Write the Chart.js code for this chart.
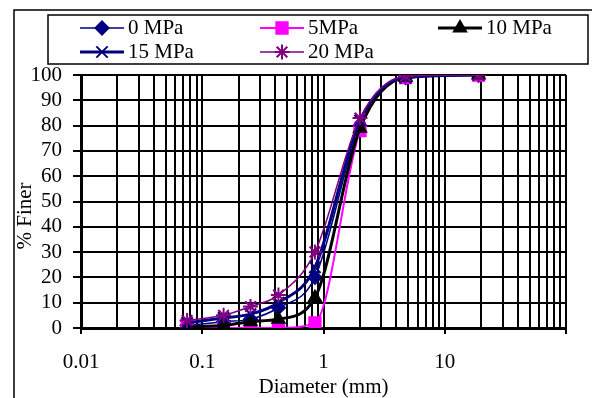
<!DOCTYPE html>
<html>
<head>
<meta charset="utf-8">
<script src="https://cdn.jsdelivr.net/npm/chart.js@4.4.1/dist/chart.umd.min.js"></script>
<style>
  html, body { margin: 0; padding: 0; background: #fff; }
  #wrap { width: 592px; height: 398px; position: relative; }
</style>
</head>
<body>
<div id="wrap"><canvas id="c"></canvas></div>
<script>
// sieve sizes (mm) and % finer for each confining pressure
const diameters = [0.075, 0.15, 0.25, 0.425, 0.85, 2, 4.75, 19];
const seriesNames = ["0 MPa", "5MPa", "10 MPa", "15 MPa", "20 MPa"];
const finer0 = [1, 2.5, 3.5, 8, 20, 80, 99, 100];
const finer5 = [1, 0, 0, 0, 2, 78, 99, 100];
const finer10 = [0.5, 1, 2.5, 3.5, 12, 79, 99, 100];
const finer15 = [2, 4, 5.5, 10, 24, 82, 99, 100];
const finer20 = [3, 5, 8.5, 13, 30, 83, 99.5, 100];
const xTickLabels = [0.01, 0.1, 1, 10];
const yMin = 0, yMax = 100, yStep = 10;

const FONT = "'Liberation Serif', 'Times New Roman', serif";
const FS = 21;

const STYLES = [
  { color: "#000080", width: 1.5, point: "rectRot", radius: 6.5 },
  { color: "#ff00ff", width: 2, point: "rect", radius: 8 },
  { color: "#000000", width: 3, point: "triangle", radius: 7 },
  { color: "#000080", width: 3, point: "crossRot", radius: 8 },
  { color: "#800080", width: 1.5, point: "star", radius: 7.5 },
];
const allSeries = [finer0, finer5, finer10, finer15, finer20];

const datasets = allSeries.map((vals, i) => ({
  label: seriesNames[i],
  data: diameters.map((d, j) => ({ x: d, y: vals[j] })),
  borderColor: STYLES[i].color,
  backgroundColor: STYLES[i].color,
  borderWidth: STYLES[i].width,
  pointStyle: STYLES[i].point,
  pointRadius: STYLES[i].radius,
  pointHoverRadius: STYLES[i].radius,
  pointBorderWidth: 2,
  pointBackgroundColor: STYLES[i].color,
  pointBorderColor: STYLES[i].color,
  cubicInterpolationMode: "monotone",
  order: allSeries.length - i,
}));

// legend grid: column starts and row centres
const LEG_COLS = [80, 260, 438];
const LEG_ROWS = [28, 52];

const framePlugin = {
  id: "frame",
  afterDraw(chart) {
    const ctx = chart.ctx;
    ctx.save();
    ctx.strokeStyle = "#000";
    ctx.lineWidth = 1.5;
    ctx.beginPath();
    ctx.moveTo(14, 400);
    ctx.lineTo(14, 10);
    ctx.lineTo(600, 10);
    ctx.stroke();

    ctx.strokeRect(48, 15, 540, 49);

    chart.data.datasets.forEach((ds, i) => {
      const col = LEG_COLS[i % 3];
      const y = LEG_ROWS[Math.floor(i / 3)];
      const st = STYLES[i];
      ctx.strokeStyle = st.color;
      ctx.fillStyle = st.color;
      ctx.lineWidth = st.width;
      ctx.beginPath();
      ctx.moveTo(col, y);
      ctx.lineTo(col + 44, y);
      ctx.stroke();
      ctx.lineWidth = 2;
      Chart.helpers.drawPoint(ctx, { pointStyle: st.point, radius: st.radius, rotation: 0, borderWidth: 2 }, col + 22, y);
      ctx.fillStyle = "#000";
      ctx.font = FS + "px " + FONT;
      ctx.textBaseline = "middle";
      ctx.textAlign = "left";
      ctx.fillText(ds.label, col + 48, y);
    });

    ctx.translate(25, 216);
    ctx.rotate(-Math.PI / 2);
    ctx.textAlign = "center";
    ctx.textBaseline = "middle";
    ctx.fillStyle = "#000";
    ctx.font = FS + "px " + FONT;
    ctx.fillText("% Finer", 0, 0);
    ctx.restore();
  },
};

new Chart(document.getElementById("c"), {
  type: "line",
  data: { datasets },
  options: {
    responsive: true,
    maintainAspectRatio: false,
    animation: false,
    layout: { padding: { top: 75, right: 26, left: 0, bottom: 0 } },
    plugins: { legend: { display: false }, tooltip: { enabled: false } },
    scales: {
      x: {
        type: "logarithmic",
        min: 0.01,
        max: 100,
        afterBuildTicks(scale) {
          const ticks = [];
          for (let e = -2; e <= 1; e++) {
            for (let m = 1; m <= 9; m++) {
              ticks.push({ value: Number((m * Math.pow(10, e)).toPrecision(3)), major: m === 1 });
            }
          }
          ticks.push({ value: 100, major: true });
          scale.ticks = ticks;
        },
        afterFit(scale) { scale.height = 70; },
        ticks: {
          autoSkip: false,
          maxRotation: 0,
          color: "#000",
          padding: 16,
          font: { family: FONT, size: FS },
          callback: (v) => (xTickLabels.includes(v) ? String(v) : ""),
        },
        grid: {
          color: "#000",
          lineWidth: 2,
          tickLength: 6,
          tickColor: (c) => (c.tick && c.tick.major ? "#000" : "rgba(0,0,0,0)"),
        },
        border: { display: true, color: "#000", width: 3 },
        title: {
          display: true,
          text: "Diameter (mm)",
          color: "#000",
          font: { family: FONT, size: FS, lineHeight: 1 },
          padding: { top: 0, bottom: 0 },
        },
      },
      y: {
        min: yMin,
        max: yMax,
        afterFit(scale) { scale.width = 81; },
        ticks: {
          stepSize: yStep,
          autoSkip: false,
          color: "#000",
          padding: 11,
          font: { family: FONT, size: FS },
        },
        grid: { color: "#000", lineWidth: 2, tickLength: 8, tickColor: "#000" },
        border: { display: true, color: "#000", width: 3 },
      },
    },
  },
  plugins: [framePlugin],
});
</script>
</body>
</html>
